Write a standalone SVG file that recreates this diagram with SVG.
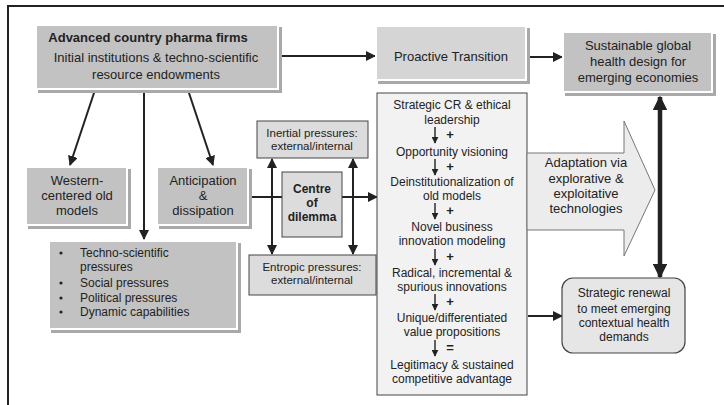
<svg xmlns="http://www.w3.org/2000/svg" width="724" height="405" viewBox="0 0 724 405">
  <defs>
    <marker id="ah" viewBox="0 0 10 10" refX="9" refY="5" markerWidth="5" markerHeight="5" orient="auto-start-reverse" markerUnits="strokeWidth">
      <path d="M0,0 L10,5 L0,10 z" fill="#222"/>
    </marker>
    <marker id="ahs" viewBox="0 0 10 10" refX="9" refY="5" markerWidth="3.2" markerHeight="3.2" orient="auto-start-reverse" markerUnits="strokeWidth">
      <path d="M0,0 L10,5 L0,10 z" fill="#222"/>
    </marker>
    <marker id="ahsmall" viewBox="0 0 10 10" refX="9" refY="5" markerWidth="5" markerHeight="5" orient="auto" markerUnits="strokeWidth">
      <path d="M0,0 L10,5 L0,10 z" fill="#222"/>
    </marker>
  </defs>
  <style>
    text { font-family: "Liberation Sans", Arial, sans-serif; fill: #222; text-anchor: middle; }
    .t13 { font-size: 13px; }
    .t12 { font-size: 12px; }
    .t11 { font-size: 11.5px; }
    .b { font-weight: bold; }
    .shadow { fill: #a9a9a9; }
    .mat { fill: #ffffff; }
    .g1 { fill: #c2c2c2; }
    .g2 { fill: #d5d5d5; }
    .plain { fill: #dcdcdc; stroke: #444; stroke-width: 1; }
    .conn { stroke: #222; stroke-width: 2; fill: none; }
    .step { stroke: #222; stroke-width: 1.4; fill: none; }
    .frame { stroke: #222; stroke-width: 2; fill: none; }
  </style>

  <!-- outer frame -->
  <path class="frame" d="M8,405 L8,6 L724,6"/>

  <!-- connectors -->
  <g id="connectors">
    <line class="conn" x1="280" y1="56" x2="375" y2="56" marker-end="url(#ah)"/>
    <line class="conn" x1="528" y1="57" x2="562" y2="57" marker-end="url(#ah)"/>
    <line class="conn" x1="95" y1="90" x2="70" y2="165" marker-end="url(#ah)"/>
    <line class="conn" x1="144" y1="90" x2="144" y2="239" marker-end="url(#ah)"/>
    <line class="conn" x1="188" y1="90" x2="213" y2="165" marker-end="url(#ah)"/>
    <line class="conn" x1="250" y1="197" x2="282" y2="197"/>
    <line class="conn" x1="342" y1="197" x2="377" y2="197" marker-end="url(#ah)"/>
    <line class="conn" x1="272" y1="159" x2="272" y2="254" marker-start="url(#ah)" marker-end="url(#ah)"/>
    <line class="conn" x1="353" y1="159" x2="353" y2="254" marker-start="url(#ah)" marker-end="url(#ah)"/>
    <line class="conn" x1="528" y1="316" x2="562" y2="316" marker-end="url(#ah)"/>
    <line stroke="#222" stroke-width="4.5" x1="660" y1="97" x2="660" y2="277" marker-start="url(#ahs)" marker-end="url(#ahs)"/>
  </g>

  <!-- source firms -->
  <g id="firms">
    <rect class="shadow" x="38" y="27" width="244" height="66"/>
    <rect class="mat" x="35" y="24" width="244" height="66"/>
    <rect class="g1" x="37" y="26" width="240" height="62"/>
    <text class="t13 b" x="148" y="42">Advanced country pharma firms</text>
    <text class="t13" x="156" y="62">Initial institutions &amp; techno-scientific</text>
    <text class="t13" x="156" y="79">resource endowments</text>
  </g>

  <g id="proactive">
    <rect class="shadow" x="378" y="28" width="152" height="56"/>
    <rect class="mat" x="375" y="25" width="152" height="56"/>
    <rect class="g2" x="377" y="27" width="148" height="52"/>
    <text class="t13" x="451" y="61">Proactive Transition</text>
  </g>

  <g id="sustainable">
    <rect class="shadow" x="565" y="34" width="151" height="62"/>
    <rect class="mat" x="562" y="31" width="151" height="62"/>
    <rect class="g1" x="564" y="33" width="147" height="58"/>
    <text class="t13" x="638" y="50">Sustainable global</text>
    <text class="t13" x="638" y="66">health design for</text>
    <text class="t13" x="638" y="82">emerging economies</text>
  </g>

  <g id="western">
    <rect class="shadow" x="28" y="169" width="103" height="60"/>
    <rect class="mat" x="25" y="166" width="103" height="60"/>
    <rect class="g1" x="27" y="168" width="99" height="56"/>
    <text class="t13" x="77" y="185">Western-</text>
    <text class="t13" x="77" y="200">centered old</text>
    <text class="t13" x="77" y="215">models</text>
  </g>

  <g id="anticipation">
    <rect class="shadow" x="159" y="169" width="93" height="60"/>
    <rect class="mat" x="156" y="166" width="93" height="60"/>
    <rect class="g1" x="158" y="168" width="89" height="56"/>
    <text class="t13" x="203" y="185">Anticipation</text>
    <text class="t13" x="203" y="200">&amp;</text>
    <text class="t13" x="203" y="215">dissipation</text>
  </g>

  <g id="pressures">
    <rect class="shadow" x="51" y="243" width="190" height="90"/>
    <rect class="mat" x="48" y="240" width="190" height="90"/>
    <rect class="g1" x="50" y="242" width="186" height="86"/>
    <g class="t12" style="text-anchor:start">
      <circle cx="61" cy="253" r="1.6" fill="#222"/>
      <text x="80" y="257" style="text-anchor:start">Techno-scientific</text>
      <text x="80" y="271" style="text-anchor:start">pressures</text>
      <circle cx="61" cy="283" r="1.6" fill="#222"/>
      <text x="80" y="287" style="text-anchor:start">Social pressures</text>
      <circle cx="61" cy="298" r="1.6" fill="#222"/>
      <text x="80" y="302" style="text-anchor:start">Political pressures</text>
      <circle cx="61" cy="312" r="1.6" fill="#222"/>
      <text x="80" y="316" style="text-anchor:start">Dynamic capabilities</text>
    </g>
  </g>

  <g id="inertial">
    <rect class="plain" x="257" y="121" width="111" height="37"/>
    <text class="t11" x="312" y="137">Inertial pressures:</text>
    <text class="t11" x="312" y="150">external/internal</text>
  </g>

  <g id="dilemma">
    <rect class="plain" x="282" y="172" width="60" height="65" fill="#d6d6d6"/>
    <text class="t12 b" x="312" y="193">Centre</text>
    <text class="t12 b" x="312" y="207">of</text>
    <text class="t12 b" x="312" y="221">dilemma</text>
  </g>

  <g id="entropic">
    <rect class="plain" x="249" y="255" width="127" height="40"/>
    <text class="t11" x="312" y="271">Entropic pressures:</text>
    <text class="t11" x="312" y="284">external/internal</text>
  </g>

  <g id="renewal-path">
    <rect x="377" y="93" width="150" height="302" fill="#f2f2f2" stroke="#444" stroke-width="1"/>
    <g class="t12">
      <text x="452" y="109">Strategic CR &amp; ethical</text>
      <text x="452" y="124">leadership</text>
      <text x="452" y="156">Opportunity visioning</text>
      <text x="452" y="186">Deinstitutionalization of</text>
      <text x="452" y="200">old models</text>
      <text x="452" y="231">Novel business</text>
      <text x="452" y="245">innovation modeling</text>
      <text x="452" y="277">Radical, incremental &amp;</text>
      <text x="452" y="291">spurious innovations</text>
      <text x="452" y="322">Unique/differentiated</text>
      <text x="452" y="336">value propositions</text>
      <text x="452" y="369">Legitimacy &amp; sustained</text>
      <text x="452" y="383">competitive advantage</text>
    </g>
    <g>
      <line class="step" x1="435" y1="127" x2="435" y2="143" marker-end="url(#ahsmall)"/>
      <line class="step" x1="435" y1="159" x2="435" y2="175" marker-end="url(#ahsmall)"/>
      <line class="step" x1="435" y1="203" x2="435" y2="219" marker-end="url(#ahsmall)"/>
      <line class="step" x1="435" y1="249" x2="435" y2="265" marker-end="url(#ahsmall)"/>
      <line class="step" x1="435" y1="294" x2="435" y2="310" marker-end="url(#ahsmall)"/>
      <line class="step" x1="435" y1="340" x2="435" y2="356" marker-end="url(#ahsmall)"/>
    </g>
    <g class="t13 b">
      <text x="450" y="139">+</text>
      <text x="450" y="171">+</text>
      <text x="450" y="215">+</text>
      <text x="450" y="261">+</text>
      <text x="450" y="306">+</text>
      <text x="450" y="352">=</text>
    </g>
  </g>

  <g id="adaptation">
    <polygon points="527,153 624,153 624,121 655,190 624,256 624,230 527,230" fill="#ececec" stroke="#777" stroke-width="1"/>
    <text class="t13" x="586" y="167">Adaptation via</text>
    <text class="t13" x="586" y="183">explorative &amp;</text>
    <text class="t13" x="586" y="198">exploitative</text>
    <text class="t13" x="586" y="213">technologies</text>
  </g>

  <g id="renewal">
    <rect x="562" y="278" width="123" height="75" rx="11" ry="11" fill="#e6e6e6" stroke="#444" stroke-width="1.2"/>
    <text class="t12" x="624" y="297">Strategic renewal</text>
    <text class="t12" x="624" y="313">to meet emerging</text>
    <text class="t12" x="624" y="327">contextual health</text>
    <text class="t12" x="624" y="341">demands</text>
  </g>
</svg>
